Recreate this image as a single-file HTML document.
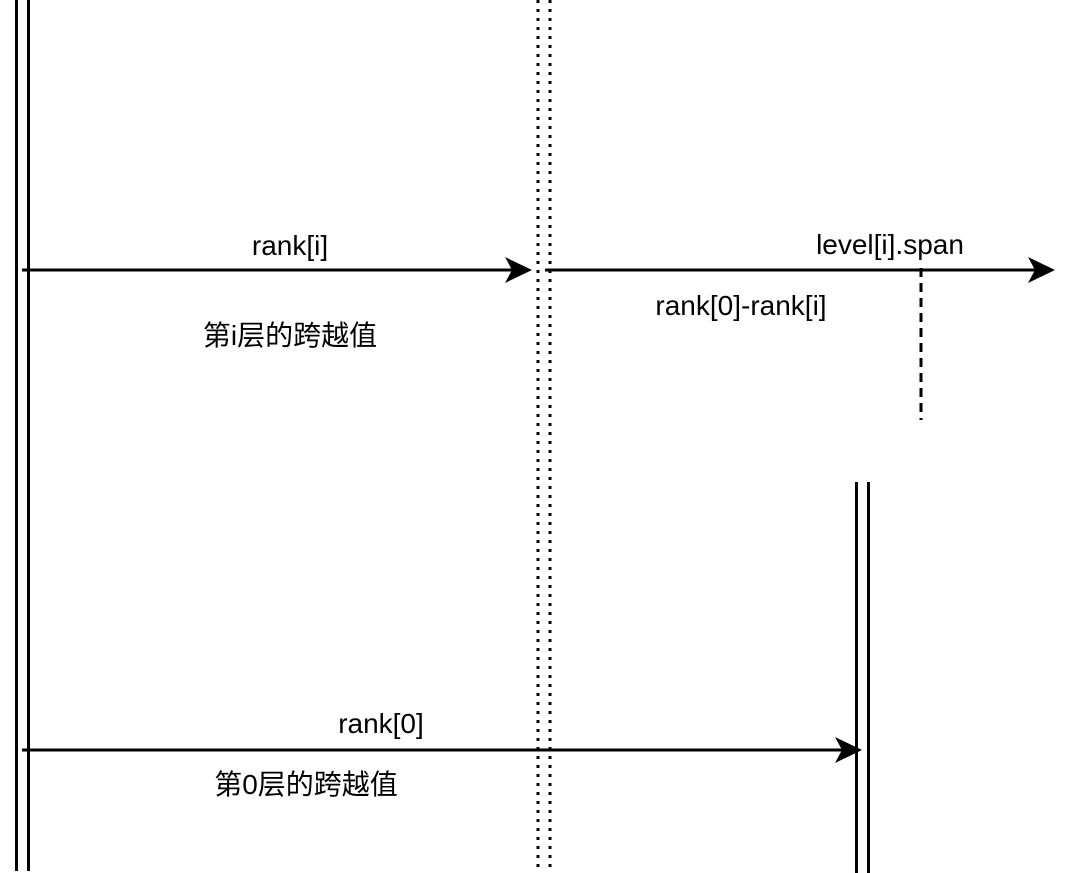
<!DOCTYPE html>
<html><head><meta charset="utf-8"><style>
html,body{margin:0;padding:0;background:#fff;width:1080px;height:873px;overflow:hidden}
text{font-family:"Liberation Sans","Noto Sans CJK SC",sans-serif;font-size:28px;fill:#000}
</style></head><body>
<svg width="1080" height="873" viewBox="0 0 1080 873" xmlns="http://www.w3.org/2000/svg">
<g stroke="#000" stroke-width="3" fill="none">
<line x1="16.5" y1="0" x2="16.5" y2="871"/>
<line x1="28.5" y1="0" x2="28.5" y2="871"/>
<line x1="856.5" y1="482" x2="856.5" y2="873"/>
<line x1="868.5" y1="482" x2="868.5" y2="873"/>
<line x1="538" y1="0" x2="538" y2="873" stroke-dasharray="3 6"/>
<line x1="550" y1="0" x2="550" y2="873" stroke-dasharray="3 6"/>
<line x1="921" y1="268" x2="921" y2="420" stroke-dasharray="9 6"/>
<line x1="22" y1="270" x2="512" y2="270"/>
<line x1="545" y1="270" x2="1035" y2="270"/>
<line x1="22" y1="750" x2="842" y2="750"/>
</g>
<g fill="#000">
<polygon points="532,270 505,257 512,270 505,283"/>
<polygon points="1055,270 1028,257 1035,270 1028,283"/>
<polygon points="862,750 835,737 842,750 835,763"/>
</g>
<text x="290" y="255" text-anchor="middle">rank[i]</text>
<text x="290" y="345" text-anchor="middle">第i层的跨越值</text>
<text x="890" y="254" text-anchor="middle">level[i].span</text>
<text x="741" y="315" text-anchor="middle">rank[0]-rank[i]</text>
<text x="381" y="733" text-anchor="middle">rank[0]</text>
<text x="306" y="794" text-anchor="middle">第0层的跨越值</text>
</svg>
</body></html>
